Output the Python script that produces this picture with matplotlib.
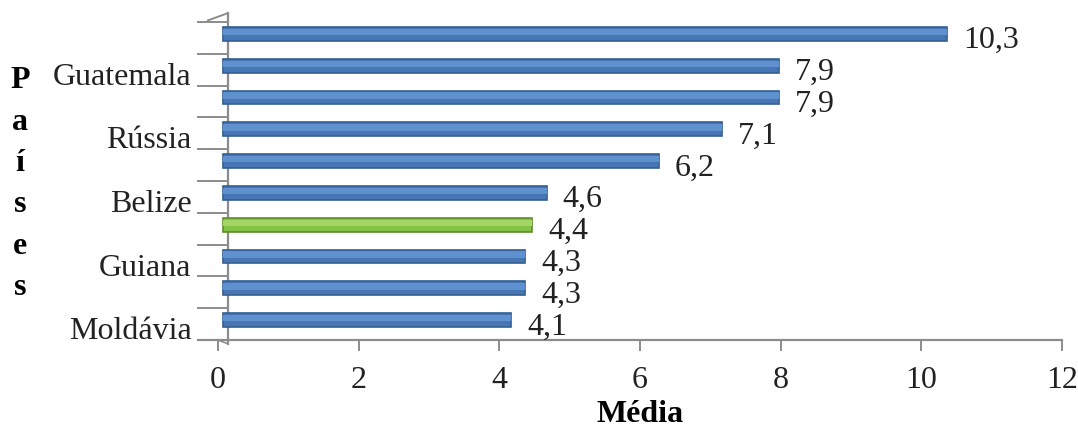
import matplotlib
matplotlib.use('Agg')
import matplotlib.pyplot as plt
import matplotlib.transforms as mtransforms

# médias por país, de baixo para cima
paises = ['Moldávia', '', 'Guiana', '', 'Belize', '', 'Rússia', '', 'Guatemala', '']
medias = [4.1, 4.3, 4.3, 4.4, 4.6, 6.2, 7.1, 7.9, 7.9, 10.3]
destaque = 3  # barra em verde
xticks = [0, 2, 4, 6, 8, 10, 12]

plt.rcParams['font.family'] = ['Liberation Serif', 'DejaVu Serif']

W, H = 1078, 432
fig = plt.figure(figsize=(W / 100, H / 100), dpi=100)
ax = fig.add_axes([218 / W, (H - 340) / H, 844 / W, 318 / H])

n = len(medias)
ax.set_xlim(0, 12)
ax.set_ylim(-0.5, n - 0.5)

# deslocamento "3D" das barras (profundidade)
off = mtransforms.offset_copy(ax.transData, fig=fig, x=5, y=4, units='dots')
ys = list(range(n))
cores = ['#86C245' if i == destaque else '#4677B4' for i in ys]
bordas = ['#5E8E2A' if i == destaque else '#345F94' for i in ys]
realce = ['#A2D766' if i == destaque else '#5F91D0' for i in ys]

ax.barh(ys, medias, height=0.44, color=cores, edgecolor=bordas, linewidth=1.2,
        transform=off, clip_on=False, zorder=3)
ax.barh([y + 0.06 for y in ys], medias, height=0.2, color=realce, linewidth=0,
        transform=off, clip_on=False, zorder=4)

for y, v in zip(ys, medias):
    ax.annotate(f'{v:.1f}'.replace('.', ','), xy=(v, y), xytext=(15, -2),
                textcoords='offset points', ha='left', va='center', fontsize=23,
                color='#222222')

# eixos: parede de fundo e piso
for s in ax.spines.values():
    s.set_visible(False)
ytr = ax.get_yaxis_transform()
px = 1 / 844
cinza = '#8C8C8C'
ax.plot([10 * px, 10 * px], [-0.62, n - 0.5 + 0.28], transform=ytr, color=cinza,
        lw=1.6, clip_on=False, zorder=2)
ax.plot([-10 * px, 10 * px], [n - 0.5 + 0.05, n - 0.5 + 0.28], transform=ytr,
        color=cinza, lw=1.4, clip_on=False)
for b in range(n + 1):
    yb = b - 0.5
    ax.plot([-20 * px, 10 * px], [yb, yb], transform=ytr, color=cinza, lw=1.4,
            clip_on=False)
ax.axhline(-0.5, xmin=-20 * px, xmax=1, color=cinza, lw=1.6, clip_on=False)
ax.plot([0, 10 * px], [-0.5, -0.62], transform=ytr, color=cinza, lw=1.2,
        clip_on=False)

ax.set_yticks(ys)
ax.set_yticklabels(paises, fontsize=23, color='#222222')
ax.tick_params(axis='y', length=0, pad=19)
for lbl in ax.get_yticklabels():
    lbl.set_transform(lbl.get_transform() + mtransforms.ScaledTranslation(0, -4 / 100, fig.dpi_scale_trans))

ax.set_xticks(xticks)
ax.set_xticklabels([str(t) for t in xticks], fontsize=23, color='#222222')
ax.tick_params(axis='x', length=8, width=1.4, color=cinza, pad=11)

ax.set_xlabel('Média', fontsize=23, fontweight='bold', labelpad=3)

for k, letra in enumerate('Países'):
    fig.text(20 / W, 1 - (81 + 41.3 * k) / H, letra, fontsize=23, fontweight='bold',
             ha='center', va='center')

fig.savefig('out.png', dpi=100)
